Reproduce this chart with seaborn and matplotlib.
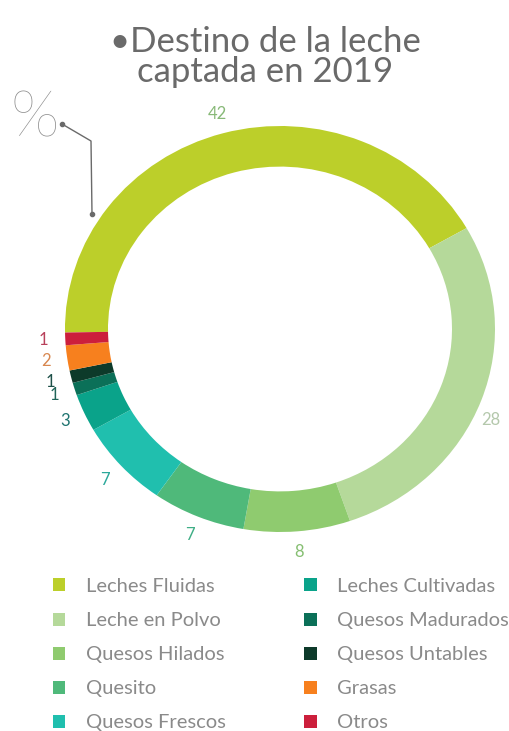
import numpy as np
import matplotlib
matplotlib.use("Agg")
import matplotlib.pyplot as plt
import seaborn as sns
from matplotlib.lines import Line2D

categories = ["Leches Fluidas", "Leche en Polvo", "Quesos Hilados", "Quesito",
              "Quesos Frescos", "Leches Cultivadas", "Quesos Madurados",
              "Quesos Untables", "Grasas", "Otros"]
values = [42, 28, 8, 7, 7, 3, 1, 1, 2, 1]
value_labels = ["42", "28", "8", "7", "7", "3", "1", "1", "2", "1"]
colors = ["#bccf2a", "#b5d99a", "#8fcb6f", "#4fb97a", "#20bfae",
          "#0aa38a", "#0b7058", "#0d3a2a", "#f7801e", "#cc1f3c"]
label_colors = ["#88b978", "#b4c8ac", "#86bf72", "#3fae86", "#2aa89a",
                "#1f7470", "#1f6458", "#1d5048", "#d8874f", "#b8405a"]

sns.set_theme(style="white")
plt.rcParams["font.family"] = ["Lato", "DejaVu Sans"]

W, H = 510, 731
fig = plt.figure(figsize=(W / 100, H / 100), dpi=100)
fig.patch.set_facecolor("white")

# donut axes (the reference ring is slightly wider than tall)
ax = fig.add_axes([65 / W, 1 - 532 / H, 430 / W, 406 / H])
palette = sns.color_palette(colors)
wedges, _ = ax.pie(values, colors=palette, startangle=181, counterclock=False,
                   radius=1.0, wedgeprops=dict(width=0.2, linewidth=0))
ax.set_aspect("auto")
ax.set_xlim(-1, 1)
ax.set_ylim(-1, 1)
ax.axis("off")

for w, lab, c in zip(wedges, value_labels, label_colors):
    ang = np.deg2rad((w.theta1 + w.theta2) / 2)
    if np.cos(ang) > 0.3:
        ang -= np.deg2rad(4)
        r = 1.08
    else:
        r = 1.1
    ax.text(r * np.cos(ang), r * np.sin(ang), lab, ha="center", va="center",
            fontsize=12, color=c, clip_on=False)

# title
fig.text(0.52, 1 - 57 / H, "•Destino de la leche\ncaptada en 2019", ha="center",
         va="center", fontsize=25, color="#6a6a6a", linespacing=0.95)

# percent marker with leader line
fig.text(35 / W, 1 - 119 / H, "%", ha="center", va="center", fontsize=46,
         color="#8a8a8a", fontweight="light")
xs = [62 / W, 91 / W, 92 / W]
ys = [1 - 124 / H, 1 - 141 / H, 1 - 214 / H]
fig.add_artist(Line2D(xs, ys, color="#6a6a6a", lw=1.0, transform=fig.transFigure))
fig.add_artist(Line2D([xs[0], xs[-1]], [ys[0], ys[-1]], ls="none", marker="o",
                      ms=3, color="#6a6a6a", transform=fig.transFigure))

# legend
leg = fig.legend(wedges, categories, ncol=2, loc="upper left",
                 bbox_to_anchor=(53 / W, 1 - 578 / H), frameon=False,
                 fontsize=14.5, handlelength=0.62, handleheight=0.62,
                 handletextpad=1.0, labelspacing=0.85, columnspacing=3.9,
                 borderpad=0, borderaxespad=0)
for t in leg.get_texts():
    t.set_color("#8a8a8a")

fig.savefig("out.png", dpi=100, facecolor="white")
